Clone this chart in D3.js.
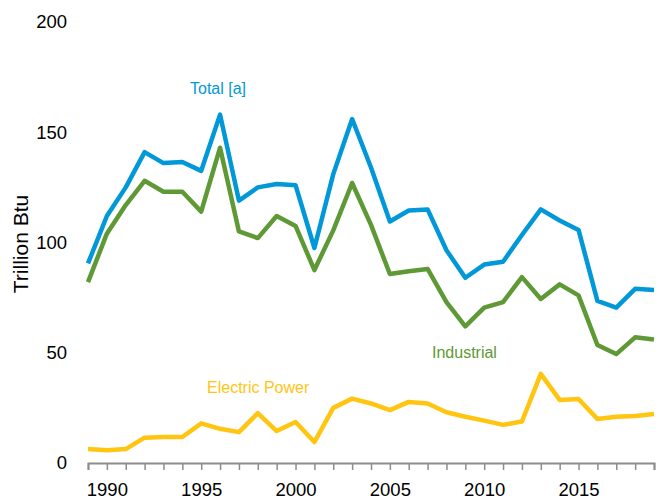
<!DOCTYPE html>
<html>
<head>
<meta charset="utf-8">
<script src="https://cdn.jsdelivr.net/npm/d3@7"></script>
<style>
  body { margin: 0; background: #fff; }
  text { font-family: "Liberation Sans", Arial, sans-serif; }
</style>
</head>
<body>
<div id="chart"></div>
<script>
// data, trillion Btu
const years = d3.range(1989, 2020);
const total = [90.5, 112, 125, 141, 136, 136.5, 132.5, 158, 119, 125, 126.5, 126, 97.5, 131, 156,
  134, 109.5, 114.5, 115, 96.5, 84, 90, 91.3, 103.4, 115, 110, 105.7, 73.5, 70.5, 79, 78.5];
const industrial = [82, 104, 117, 128, 123, 123, 114, 143, 105, 102, 112, 107.5, 87.5, 105.5, 127,
  108, 85.7, 87, 88, 73, 62, 70.5, 73, 84.3, 74.4, 81, 76, 53.5, 49.4, 57, 56];
const electric = [6.3, 5.8, 6.3, 11.5, 11.8, 11.8, 18, 15.5, 14, 22.6, 14.5, 18.6, 9.5, 25, 29.2,
  27, 24, 27.7, 27, 23, 21, 19.2, 17.3, 18.8, 40.4, 28.6, 29, 20, 21, 21.3, 22.2];
const yTicks = [0, 50, 100, 150, 200];
const xTickLabels = [1990, 1995, 2000, 2005, 2010, 2015];

const series = [
  { name: 'Total [a]', values: total, color: '#0098d8', lx: 190, ly: 94 },
  { name: 'Industrial', values: industrial, color: '#5e9935', lx: 432, ly: 358 },
  { name: 'Electric Power', values: electric, color: '#ffc511', lx: 207, ly: 393 }
];

const width = 658, height = 503;
const margin = { top: 22, right: 4, bottom: 40, left: 88 };

const svg = d3.select('#chart').append('svg')
  .attr('width', width)
  .attr('height', height);

const x = d3.scaleLinear()
  .domain([1989, 2019])
  .range([margin.left, width - margin.right]);

const y = d3.scaleLinear()
  .domain([0, 200])
  .range([height - margin.bottom, margin.top]);

// x axis: tick every year, labels every five
const xAxis = svg.append('g')
  .attr('transform', 'translate(0,' + y(0) + ')')
  .call(d3.axisBottom(x)
    .tickValues(years)
    .tickSize(7)
    .tickFormat(d => xTickLabels.includes(d) ? d : ''));
xAxis.select('.domain').attr('stroke', '#8c8c8c').attr('stroke-width', 2);
xAxis.selectAll('.tick line').attr('stroke', '#8c8c8c').attr('stroke-width', 1.5);
xAxis.selectAll('.tick text')
  .attr('font-size', 18.5)
  .attr('font-family', '"Liberation Sans", Arial, sans-serif')
  .attr('fill', '#000')
  .attr('dy', '1.22em');

// y axis: labels only
const yAxis = svg.append('g')
  .attr('transform', 'translate(70,0)')
  .call(d3.axisLeft(y).tickValues(yTicks).tickSize(0));
yAxis.select('.domain').remove();
yAxis.selectAll('.tick text')
  .attr('font-size', 18.5)
  .attr('font-family', '"Liberation Sans", Arial, sans-serif')
  .attr('fill', '#000');

svg.append('text')
  .attr('transform', 'translate(28,' + 244 + ') rotate(-90)')
  .attr('text-anchor', 'middle')
  .attr('font-size', 21)
  .text('Trillion Btu');

const line = d3.line()
  .x((d, i) => x(years[i]))
  .y(d => y(d));

svg.selectAll('path.series')
  .data(series)
  .enter()
  .append('path')
  .attr('class', 'series')
  .attr('fill', 'none')
  .attr('stroke', d => d.color)
  .attr('stroke-width', 4.5)
  .attr('stroke-linejoin', 'round')
  .attr('d', d => line(d.values));

svg.selectAll('text.label')
  .data(series)
  .enter()
  .append('text')
  .attr('class', 'label')
  .attr('x', d => d.lx)
  .attr('y', d => d.ly)
  .attr('font-size', 16)
  .attr('fill', d => d.color)
  .text(d => d.name);
</script>
</body>
</html>
